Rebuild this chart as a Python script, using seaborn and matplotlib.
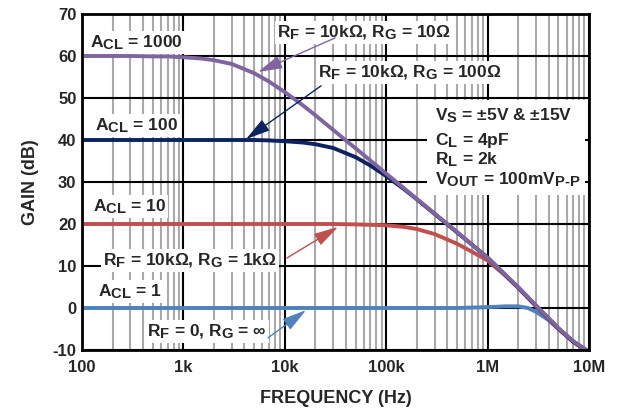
import matplotlib
matplotlib.use("Agg")
import matplotlib.pyplot as plt
import matplotlib._mathtext as mathtext_core
from matplotlib.patches import Rectangle
from matplotlib.ticker import FixedLocator, FixedFormatter, NullFormatter
import pandas as pd
import seaborn as sns

# Closed-loop gain vs. frequency for four gain settings
freq_hz = [100, 150, 200, 300, 500, 700,
           1e3, 1.5e3, 2e3, 3e3, 5e3, 7e3,
           1e4, 1.5e4, 2e4, 3e4, 5e4, 7e4,
           1e5, 1.5e5, 2e5, 3e5, 5e5, 7e5,
           1e6, 1.5e6, 2e6, 2.5e6, 3e6, 4e6, 5e6, 7e6, 1e7]

gain_acl1000 = [60.0, 60.0, 60.0, 60.0, 59.9, 59.9,
                59.7, 59.4, 59.0, 58.1, 55.9, 53.9,
                51.4, 48.3, 45.9, 42.4, 38.0, 35.1,
                32.0, 28.5, 26.0, 22.5, 18.1, 15.1,
                12.0, 7.9, 5.0, 2.6, 0.6, -2.4, -4.8, -7.9, -10.4]

gain_acl100 = [40.0, 40.0, 40.0, 40.0, 40.0, 40.0,
               40.0, 40.0, 40.0, 40.0, 40.0, 39.9,
               39.7, 39.4, 39.0, 38.1, 35.9, 33.9,
               31.4, 28.3, 25.9, 22.4, 18.0, 15.1,
               12.0, 7.8, 4.9, 2.5, 0.5, -2.5, -4.9, -8.0, -10.5]

gain_acl10 = [20.0, 20.0, 20.0, 20.0, 20.0, 20.0,
              20.0, 20.0, 20.0, 20.0, 20.0, 20.0,
              20.0, 20.0, 20.0, 20.0, 19.9, 19.8,
              19.7, 19.3, 18.8, 17.6, 15.3, 13.4,
              11.3, 7.7, 4.8, 2.4, 0.4, -2.6, -5.0, -8.1, -10.6]

gain_acl1 = [0.0, 0.0, 0.0, 0.0, 0.0, 0.0,
             0.0, 0.0, 0.0, 0.0, 0.0, 0.0,
             0.0, 0.0, 0.0, 0.0, 0.0, 0.0,
             0.0, 0.0, 0.0, 0.0, 0.0, 0.1,
             0.2, 0.4, 0.4, 0.0, -0.9, -2.9, -5.0, -8.0, -10.5]

curve_names = ["ACL=1", "ACL=10", "ACL=100", "ACL=1000"]
curve_colors = ["#4f81bd", "#c0504d", "#0b2461", "#8064a2"]

x_ticks = [1e2, 1e3, 1e4, 1e5, 1e6, 1e7]
x_tick_labels = ["100", "1k", "10k", "100k", "1M", "10M"]
y_ticks = [-10, 0, 10, 20, 30, 40, 50, 60, 70]

df = pd.DataFrame({
    "freq": freq_hz * 4,
    "gain": gain_acl1 + gain_acl10 + gain_acl100 + gain_acl1000,
    "curve": sum([[n] * len(freq_hz) for n in curve_names], []),
})

sns.set_theme(style="white")
plt.rcParams.update({
    "font.family": ["Liberation Sans", "DejaVu Sans"],
    "font.weight": "bold",
    "axes.unicode_minus": False,
    "mathtext.fontset": "custom",
    "mathtext.rm": "Liberation Sans:bold",
    "mathtext.it": "Liberation Sans:bold",
    "mathtext.bf": "Liberation Sans:bold",
    "mathtext.sf": "Liberation Sans:bold",
})
# larger, lower subscripts than the TeX defaults
mathtext_core.SHRINK_FACTOR = 0.85
mathtext_core.FontConstantsBase.subdrop = 0.5

fig = plt.figure(figsize=(6.21, 4.09), dpi=100)
ax = fig.add_axes([82 / 621, 1 - 350 / 409, 507 / 621, 336 / 409])
ax.set_xscale("log")

sns.lineplot(data=df, x="freq", y="gain", hue="curve", hue_order=curve_names,
             palette=curve_colors, linewidth=2.8, legend=False, ax=ax,
             estimator=None, sort=False)

ax.set_xlim(100, 1e7)
ax.set_ylim(-10, 70)

# grid: black decades / 10 dB lines, grey minor decade lines
minor = [m * d for d in [1e2, 1e3, 1e4, 1e5, 1e6] for m in range(2, 10)]
ax.xaxis.set_major_locator(FixedLocator(x_ticks))
ax.xaxis.set_major_formatter(FixedFormatter(x_tick_labels))
ax.xaxis.set_minor_locator(FixedLocator(minor))
ax.xaxis.set_minor_formatter(NullFormatter())
ax.set_yticks(y_ticks)
ax.set_yticklabels([str(v) for v in y_ticks])
ax.set_axisbelow(True)
ax.grid(which="major", axis="both", color="black", linewidth=1.5)
ax.grid(which="minor", axis="x", color="#a9a9a9", linewidth=1.5)
ax.tick_params(which="both", length=0, labelsize=12)
ax.tick_params(axis="x", pad=7)
ax.tick_params(axis="y", pad=4)
for lab in ax.get_xticklabels() + ax.get_yticklabels():
    lab.set_fontweight("bold")
for s in ax.spines.values():
    s.set_color("black")
    s.set_linewidth(2)

ax.set_xlabel("FREQUENCY (Hz)", fontsize=13, fontweight="bold", labelpad=11)
ax.set_ylabel("GAIN (dB)", fontsize=13, fontweight="bold", labelpad=10)

# test-condition block on a white panel
ax.add_patch(Rectangle((2.52e5, 26.9), 9.15e6 - 2.52e5, 49.5 - 26.9,
                       facecolor="white", edgecolor="none", zorder=1))
cond = [
    (44.6, r"V$_{\mathrm{S}}$ = ±5V & ±15V"),
    (38.8, r"C$_{\mathrm{L}}$ = 4pF"),
    (34.3, r"R$_{\mathrm{L}}$ = 2k"),
    (29.5, r"V$_{\mathrm{OUT}}$ = 100mV$_{\text{P-P}}$"),
]
for yv, txt in cond:
    ax.text(3.03e5, yv, txt, fontsize=12.5, fontweight="bold", ha="left",
            va="baseline", zorder=4)

box = dict(facecolor="white", edgecolor="none", pad=1.5)
labels = [
    (120, 62.1, r"A$_{\mathrm{CL}}$ = 1000"),
    (8.4e3, 64.5, r"R$_{\mathrm{F}}$ = 10kΩ, R$_{\mathrm{G}}$ = 10Ω"),
    (2.12e4, 55.0, r"R$_{\mathrm{F}}$ = 10kΩ, R$_{\mathrm{G}}$ = 100Ω"),
    (134, 42.4, r"A$_{\mathrm{CL}}$ = 100"),
    (128, 23.1, r"A$_{\mathrm{CL}}$ = 10"),
    (161, 10.2, r"R$_{\mathrm{F}}$ = 10kΩ, R$_{\mathrm{G}}$ = 1kΩ"),
    (144, 2.9, r"A$_{\mathrm{CL}}$ = 1"),
    (438, -6.7, r"R$_{\mathrm{F}}$ = 0, R$_{\mathrm{G}}$ = ∞"),
]
for xv, yv, txt in labels:
    ax.text(xv, yv, txt, fontsize=12.5, fontweight="bold", ha="left",
            va="baseline", bbox=box, zorder=3)

# pointers from the resistor labels to their curves
arrows = [
    ((5.44e3, 56.2), (3.13e4, 64.3), "#8064a2"),
    ((4.14e3, 40.2), (2.28e4, 52.9), "#0b2461"),
    ((3.35e4, 19.3), (1.05e4, 11.9), "#c0504d"),
    ((1.62e4, -0.5), (6.83e3, -7.1), "#4f81bd"),
]
for tip, tail, col in arrows:
    ax.annotate("", xy=tip, xytext=tail,
                arrowprops=dict(arrowstyle="-|>,head_length=1.0,head_width=0.27",
                                mutation_scale=15, color=col, lw=1,
                                shrinkA=0, shrinkB=0),
                zorder=5)

fig.savefig("out.png", dpi=100, facecolor="white")
